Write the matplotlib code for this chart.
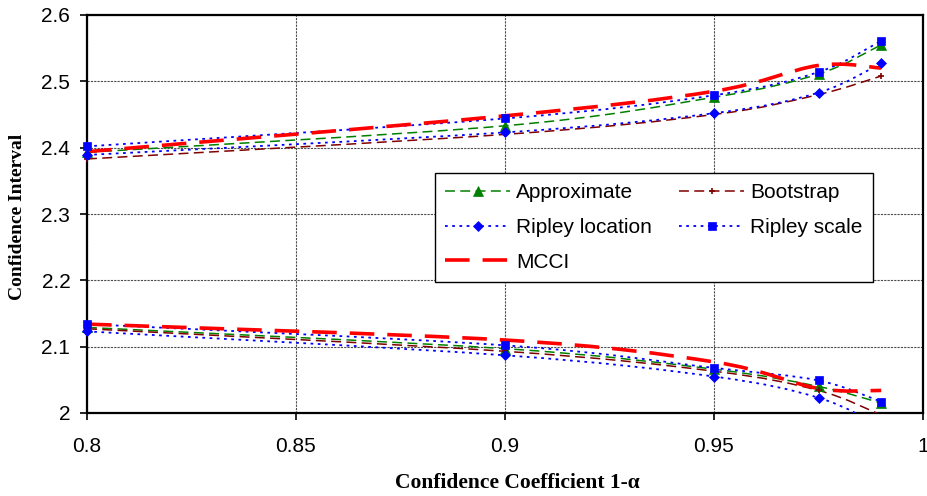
import numpy as np
import matplotlib
matplotlib.use("Agg")
import matplotlib.pyplot as plt
from matplotlib.path import Path
from matplotlib.patches import PathPatch
from matplotlib.lines import Line2D

# ---------------- data ----------------
conf = [0.8, 0.9, 0.95, 0.975, 0.99]

approx_upper = [2.393, 2.433, 2.476, 2.511, 2.555]
approx_lower = [2.129, 2.097, 2.066, 2.040, 2.015]

boot_upper = [2.383, 2.420, 2.450, 2.480, 2.508]
boot_lower = [2.127, 2.093, 2.063, 2.034, 1.997]

riploc_upper = [2.389, 2.423, 2.452, 2.483, 2.527]
riploc_lower = [2.123, 2.087, 2.055, 2.023, 1.980]

ripscale_upper = [2.402, 2.444, 2.479, 2.514, 2.561]
ripscale_lower = [2.134, 2.102, 2.068, 2.049, 2.017]

mcci_upper = [2.394, 2.448, 2.485, 2.524, 2.520]
mcci_lower = [2.134, 2.110, 2.077, 2.037, 2.034]

series_names = ["Approximate", "Bootstrap", "Ripley location", "Ripley scale", "MCCI"]

xticks = [0.8, 0.85, 0.9, 0.95, 1.0]
xtick_labels = ["0.8", "0.85", "0.9", "0.95", "1"]
yticks = [2.0, 2.1, 2.2, 2.3, 2.4, 2.5, 2.6]
ytick_labels = ["2", "2.1", "2.2", "2.3", "2.4", "2.5", "2.6"]

xlabel = "Confidence Coefficient 1-\u03b1"
ylabel = "Confidence Interval"

# ---------------- styles ----------------
styles = {
    "Approximate": dict(color="#008000", lw=1.1, ls=(0, (6.5, 3.5)), marker="^", ms=6.5),
    "Bootstrap": dict(color="#800000", lw=1.1, ls=(0, (6.5, 3.5)), marker="+", ms=5),
    "Ripley location": dict(color="#0000FF", lw=1.3, ls=(0, (1.5, 2.5)), marker="D", ms=5.5),
    "Ripley scale": dict(color="#0000FF", lw=1.3, ls=(0, (1.5, 2.5)), marker="s", ms=5.5),
    "MCCI": dict(color="#FF0000", lw=2.6, ls=(0, (6.8, 3.6)), marker=None, ms=0),
}
data = {
    "Approximate": (approx_upper, approx_lower),
    "Bootstrap": (boot_upper, boot_lower),
    "Ripley location": (riploc_upper, riploc_lower),
    "Ripley scale": (ripscale_upper, ripscale_lower),
    "MCCI": (mcci_upper, mcci_lower),
}


def smooth_path(xs, ys):
    """Excel-like smoothed line: cubic Bezier through the data points."""
    pts = np.column_stack([xs, ys]).astype(float)
    n = len(pts)
    verts = [pts[0]]
    codes = [Path.MOVETO]
    for i in range(n - 1):
        p0 = pts[i - 1] if i > 0 else pts[i]
        p1 = pts[i]
        p2 = pts[i + 1]
        p3 = pts[i + 2] if i + 2 < n else pts[i + 1]
        c1 = p1 + (p2 - p0) / 6.0
        c2 = p2 - (p3 - p1) / 6.0
        verts += [c1, c2, p2]
        codes += [Path.CURVE4] * 3
    return Path(verts, codes)


plt.rcParams["font.family"] = ["Liberation Sans", "DejaVu Sans"]

fig = plt.figure(figsize=(9.27, 4.96), dpi=100)
ax = fig.add_axes([87 / 927, 1 - 413 / 496, (923 - 87) / 927, (413 - 15) / 496])

ax.set_xlim(0.8, 1.0)
ax.set_ylim(2.0, 2.6)

for name in series_names:
    st = styles[name]
    for ys in data[name]:
        patch = PathPatch(smooth_path(conf, ys), fill=False, edgecolor=st["color"],
                          lw=st["lw"], linestyle=st["ls"], transform=ax.transData,
                          zorder=3, capstyle="butt")
        ax.add_patch(patch)

for name in series_names:
    st = styles[name]
    if st["marker"] is None:
        continue
    for ys in data[name]:
        yv = np.ma.masked_outside(np.array(ys), 2.0, 2.6)
        ax.plot(conf, yv, linestyle="none", marker=st["marker"], ms=st["ms"],
                color=st["color"], mec=st["color"], mew=1.2 if st["marker"] == "+" else 0.5,
                zorder=4, clip_on=False)

ax.set_xticks(xticks)
ax.set_xticklabels(xtick_labels)
ax.set_yticks(yticks)
ax.set_yticklabels(ytick_labels)
ax.tick_params(axis="both", direction="out", length=5, width=1.2, labelsize=15, colors="black")
ax.tick_params(axis="x", pad=12)
ax.tick_params(axis="y", pad=7)

ax.grid(True, color="#4d4d4d", linestyle=(0, (2, 1)), linewidth=0.8, zorder=1)
ax.set_axisbelow(True)
for sp in ax.spines.values():
    sp.set_linewidth(1.6)
    sp.set_color("black")

# legend (row-wise order: Approximate, Bootstrap / Ripley location, Ripley scale / MCCI)
handles = {}
for name in series_names:
    st = styles[name]
    handles[name] = Line2D([], [], color=st["color"], lw=st["lw"], linestyle=st["ls"],
                           marker=st["marker"] if st["marker"] else None, ms=st["ms"],
                           mew=1.2 if st["marker"] == "+" else 0.5)
order = ["Approximate", "Ripley location", "MCCI", "Bootstrap", "Ripley scale"]
leg = ax.legend([handles[n] for n in order], order, ncol=2, loc="upper left",
                bbox_to_anchor=((435 - 87) / 836, (413 - 173) / 398), borderaxespad=0,
                fontsize=15, handlelength=3.1, handletextpad=0.3, columnspacing=1.3,
                labelspacing=0.75, borderpad=0.5, numpoints=1, fancybox=False,
                framealpha=1, edgecolor="black")
leg.get_frame().set_linewidth(1.0)
leg.set_zorder(6)

fig.text(517 / 927, 1 - 483 / 496, xlabel, ha="center", va="center", fontsize=15.5,
         fontweight="bold", family=["Liberation Serif", "DejaVu Serif"])
fig.text(18 / 927, 1 - 217 / 496, ylabel, ha="center", va="center", rotation=90,
         fontsize=14, fontweight="bold", family=["Liberation Serif", "DejaVu Serif"])

fig.savefig("out.png", dpi=100)
